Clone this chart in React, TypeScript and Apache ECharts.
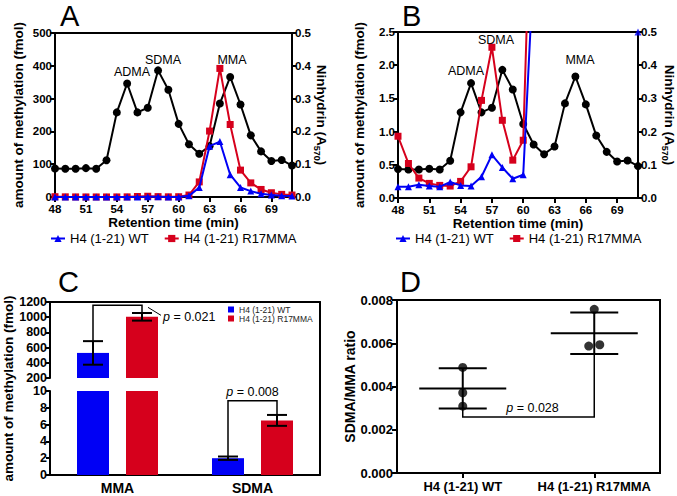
import React, { useEffect, useRef } from "react";
import * as echarts from "echarts";

const FONT = "'Liberation Sans', Arial, Helvetica, sans-serif";
const BLUE = "#0000f5";
const RED = "#d6001c";
const BLACK = "#000000";
const WT = "H4 (1-21) WT";
const R17 = "H4 (1-21) R17MMA";

// ---------- Panels A & B : chromatograms ----------
const retentionTime = [48, 49, 50, 51, 52, 53, 54, 55, 56, 57, 58, 59, 60, 61, 62, 63, 64, 65, 66, 67, 68, 69, 70, 71];
const ninhydrinA570 = [0.087, 0.086, 0.086, 0.088, 0.086, 0.112, 0.258, 0.346, 0.258, 0.272, 0.386, 0.327, 0.223, 0.161, 0.132, 0.155, 0.285, 0.366, 0.282, 0.188, 0.139, 0.11, 0.113, 0.096];
const wtMethylFmol = [0.17, 0.17, 0.2, 0.18, 0.17, 0.24, 0.19, 0.18, 0.32, 0.65, 0.46, 0.29, 0.35, 3.5, 29, 155, 169, 68, 29, 18, 10, 6, 4, 3];
const r17MethylFmol = [0.93, 0.52, 0.3, 0.22, 0.19, 0.18, 0.25, 0.47, 1.47, 2.27, 1.17, 0.57, 0.87, 6, 46, 201, 392, 221, 82, 43, 23, 13, 8, 6];
const wtOffScaleB = [[71, 2.5]];
const retentionTicks = [48, 51, 54, 57, 60, 63, 66, 69];
const aLeftTicks = [0, 100, 200, 300, 400, 500];
const bLeftTicks = [0, 0.5, 1.0, 1.5, 2.0, 2.5];
const ninhydrinTicks = [0, 0.1, 0.2, 0.3, 0.4, 0.5];

// ---------- Panel C : bars with broken axis ----------
const cCategories = ["MMA", "SDMA"];
const cWtMean = [530, 2.0];
const cWtErr = [155, 0.2];
const cR17Mean = [1005, 6.5];
const cR17Err = [50, 0.65];
const cPValues = ["0.021", "0.008"];
const cBracketTop = [1156, 8.84];
const cUpperTicks = [200, 400, 600, 800, 1000, 1200];
const cLowerTicks = [0, 2, 4, 6, 8, 10];

// ---------- Panel D : ratio scatter ----------
const dCategories = ["H4 (1-21) WT", "H4 (1-21) R17MMA"];
const dWtRatios = [0.00488, 0.00371, 0.00309];
const dR17Ratios = [0.00757, 0.00587, 0.00593];
const dMean = [0.00391, 0.00646];
const dSD = [0.00093, 0.00096];
const dPValue = "0.028";
const dBracketBottom = 0.00259;
const dTicks = [0, 0.002, 0.004, 0.006, 0.008];

// layout constants
const C_BAR_W = 32;
const C_BAR_GAP = 17;
const C_OFF = (C_BAR_W + C_BAR_GAP) / 2;
const dWtJitterPx = [0, 0, 0];
const dR17JitterPx = [0, -5.5, 5.5];

const axisLine = { show: true, onZero: false, lineStyle: { color: BLACK, width: 2 } };
const axisTick = (length = 5) => ({ show: true, inside: false, length, lineStyle: { color: BLACK, width: 2 } });
const plain = (v: number) => String(v);
const tickText = (fontSize: number, margin: number, formatter: any = plain) => ({
  show: true, color: BLACK, fontFamily: FONT, fontWeight: "bold", fontSize, margin, formatter,
});
const titleText = (fontSize = 13.5) => ({ color: BLACK, fontFamily: FONT, fontWeight: "bold", fontSize });
const noSplit = { show: false };
const range = (t: number[]) => ({ min: t[0], max: t[t.length - 1], interval: t[1] - t[0] });

const ninhydrinName = "{n|Ninhydrin (A}{s|570}{n|)}";
const ninhydrinRich = {
  n: { fontFamily: FONT, fontWeight: "bold", fontSize: 13.5, color: BLACK, lineHeight: 18, verticalAlign: "middle" },
  s: { fontFamily: FONT, fontWeight: "bold", fontSize: 9, color: BLACK, lineHeight: 9, verticalAlign: "bottom" },
};

const pRich = (fs: number) => ({
  i: { fontFamily: FONT, fontStyle: "italic", fontSize: fs, fill: BLACK },
  n: { fontFamily: FONT, fontSize: fs, fill: BLACK },
});

const lineStroke = { stroke: BLACK, lineWidth: 2, fill: null };
const thinStroke = { stroke: BLACK, lineWidth: 1.5, fill: null };

function chromXAxis(gridIndex: number) {
  return {
    type: "value",
    gridIndex,
    min: retentionTicks[0],
    max: retentionTime[retentionTime.length - 1],
    interval: retentionTicks[1] - retentionTicks[0],
    axisLine,
    axisTick: axisTick(5),
    axisLabel: { ...tickText(11.5, 6), showMaxLabel: false },
    splitLine: noSplit,
    name: "Retention time (min)",
    nameLocation: "middle",
    nameGap: 18,
    nameMoveOverlap: false,
    nameTextStyle: titleText(13.5),
  };
}

function chromSeries(xi: number, yl: number, yr: number) {
  const xy = (arr: number[]) => retentionTime.map((t, i) => [t, arr[i]]);
  return [
    {
      type: "line", name: "Ninhydrin", xAxisIndex: xi, yAxisIndex: yr, data: xy(ninhydrinA570),
      symbol: "circle", symbolSize: 8, itemStyle: { color: BLACK }, lineStyle: { color: BLACK, width: 2 }, clip: true, z: 2,
    },
    {
      type: "line", name: R17, xAxisIndex: xi, yAxisIndex: yl, data: xy(r17MethylFmol),
      symbol: "rect", symbolSize: 7, itemStyle: { color: RED }, lineStyle: { color: RED, width: 2 }, clip: true, z: 3,
    },
    {
      type: "line", name: WT, xAxisIndex: xi, yAxisIndex: yl, data: xy(wtMethylFmol),
      symbol: "triangle", symbolSize: 7, itemStyle: { color: BLUE }, lineStyle: { color: BLUE, width: 2 }, clip: true, z: 4,
    },
  ];
}

function cBars(xi: number, yi: number) {
  return [
    { type: "bar", name: WT, xAxisIndex: xi, yAxisIndex: yi, data: cWtMean, barWidth: C_BAR_W, barGap: `${(C_BAR_GAP / C_BAR_W) * 100}%`, itemStyle: { color: BLUE }, clip: true },
    { type: "bar", name: R17, xAxisIndex: xi, yAxisIndex: yi, data: cR17Mean, barWidth: C_BAR_W, barGap: `${(C_BAR_GAP / C_BAR_W) * 100}%`, itemStyle: { color: RED }, clip: true },
  ];
}

function cErrorBars(xi: number, yi: number) {
  const data: number[][] = [];
  cCategories.forEach((_, i) => {
    data.push([i, 0, cWtMean[i], cWtErr[i]]);
    data.push([i, 1, cR17Mean[i], cR17Err[i]]);
  });
  return {
    type: "custom", xAxisIndex: xi, yAxisIndex: yi, clip: true, silent: true, z: 6,
    encode: { x: 0, y: 2 },
    data,
    renderItem: (_p: any, api: any) => {
      const cat = api.value(0);
      const grp = api.value(1);
      const mean = api.value(2);
      const err = api.value(3);
      const x = api.coord([cat, mean])[0] + (grp === 0 ? -C_OFF : C_OFF);
      const yHi = api.coord([cat, mean + err])[1];
      const yLo = api.coord([cat, mean - err])[1];
      return {
        type: "group",
        children: [
          { type: "line", shape: { x1: x, y1: yHi, x2: x, y2: yLo }, style: lineStroke },
          { type: "line", shape: { x1: x - 10, y1: yHi, x2: x + 10, y2: yHi }, style: lineStroke },
          { type: "line", shape: { x1: x - 10, y1: yLo, x2: x + 10, y2: yLo }, style: lineStroke },
        ],
      };
    },
  };
}

function cBracket(i: number, xi: number, yi: number, side: boolean) {
  return {
    type: "custom", xAxisIndex: xi, yAxisIndex: yi, clip: false, silent: true, z: 7,
    encode: { x: 0, y: 3 },
    data: [[i, cWtMean[i] + cWtErr[i], cR17Mean[i] + cR17Err[i], cBracketTop[i]]],
    renderItem: (_p: any, api: any) => {
      const cat = api.value(0);
      const top = api.coord([cat, api.value(3)]);
      const xl = top[0] - C_OFF;
      const xr = top[0] + C_OFF;
      const yt = top[1];
      const yl = api.coord([cat, api.value(1)])[1];
      const yr = api.coord([cat, api.value(2)])[1];
      const txt = `{i|p}{n| = ${cPValues[i]}}`;
      const children: any[] = [
        { type: "polyline", shape: { points: [[xl, yl], [xl, yt], [xr, yt], [xr, yr]] }, style: thinStroke },
      ];
      if (side) {
        children.push({ type: "line", shape: { x1: xr + 6, y1: yt + 2, x2: xr + 19, y2: yt + 10 }, style: { stroke: BLACK, lineWidth: 1, fill: null } });
        children.push({
          type: "text", x: xr + 21, y: yt + 12,
          style: { text: txt, rich: pRich(12.5), fontSize: 12.5, fontFamily: FONT, fill: BLACK, align: "left", verticalAlign: "middle", textAlign: "left", textVerticalAlign: "middle" },
        });
      } else {
        children.push({
          type: "text", x: top[0], y: yt - 2,
          style: { text: txt, rich: pRich(12.5), fontSize: 12.5, fontFamily: FONT, fill: BLACK, align: "center", verticalAlign: "bottom", textAlign: "center", textVerticalAlign: "bottom" },
        });
      }
      return { type: "group", children };
    },
  };
}

const panelLetter = (text: string, x: number, y: number) => ({
  type: "text", x, y, silent: true,
  style: { text, fontSize: 29, fontFamily: FONT, fill: BLACK, align: "left", verticalAlign: "top", textAlign: "left", textVerticalAlign: "top" },
});
const peakLabel = (text: string, x: number, y: number) => ({
  type: "text", x, y, silent: true,
  style: { text, fontSize: 12.5, fontFamily: FONT, fill: BLACK, align: "center", verticalAlign: "middle", textAlign: "center", textVerticalAlign: "middle" },
});

const option: any = {
  animation: false,
  backgroundColor: "#ffffff",
  textStyle: { fontFamily: FONT },
  grid: [
    { left: 55, top: 33, width: 237, height: 164, show: true, borderColor: BLACK, borderWidth: 2, containLabel: false, outerBoundsMode: "none" },
    { left: 398, top: 32, width: 240, height: 166, show: true, borderColor: BLACK, borderWidth: 2, containLabel: false, outerBoundsMode: "none" },
    { left: 50, top: 302, width: 270, height: 76, containLabel: false, outerBoundsMode: "none" },
    { left: 50, top: 391, width: 270, height: 84, containLabel: false, outerBoundsMode: "none" },
    { left: 50, top: 302, width: 270, height: 173, containLabel: false, outerBoundsMode: "none" },
    { left: 397, top: 300, width: 263, height: 173, show: true, borderColor: BLACK, borderWidth: 2, containLabel: false, outerBoundsMode: "none" },
  ],
  xAxis: [
    chromXAxis(0),
    chromXAxis(1),
    { type: "category", gridIndex: 2, data: cCategories, show: false },
    {
      type: "category", gridIndex: 3, data: cCategories, axisLine, axisTick: { show: false },
      axisLabel: { ...tickText(14, 6, null), interval: 0 }, splitLine: noSplit,
    },
    {
      type: "value", gridIndex: 4, position: "top", min: 0, max: 1, axisLine,
      axisTick: { show: false }, axisLabel: { show: false }, splitLine: noSplit,
    },
    {
      type: "category", gridIndex: 5, data: dCategories, axisLine,
      axisTick: { ...axisTick(5), alignWithLabel: true, interval: 0 },
      axisLabel: { ...tickText(13, 7, null), interval: 0, hideOverlap: false }, splitLine: noSplit,
    },
  ],
  yAxis: [
    {
      type: "value", gridIndex: 0, position: "left", ...range(aLeftTicks), axisLine, axisTick: axisTick(5),
      axisLabel: tickText(11.5, 3), splitLine: noSplit,
      name: "amount of methylation (fmol)", nameLocation: "middle", nameGap: 30, nameMoveOverlap: false, nameTextStyle: titleText(13.5),
    },
    {
      type: "value", gridIndex: 0, position: "right", ...range(ninhydrinTicks), axisLine, axisTick: axisTick(4),
      axisLabel: tickText(11.5, 3, (v: number) => v.toFixed(1)), splitLine: noSplit,
      name: ninhydrinName, nameLocation: "middle", nameRotate: -90, nameGap: 20, nameMoveOverlap: false,
      nameTextStyle: { ...titleText(13.5), rich: ninhydrinRich },
    },
    {
      type: "value", gridIndex: 1, position: "left", ...range(bLeftTicks), axisLine, axisTick: axisTick(5),
      axisLabel: tickText(11.5, 3, (v: number) => v.toFixed(1)), splitLine: noSplit,
      name: "amount of methylation (fmol)", nameLocation: "middle", nameGap: 32, nameMoveOverlap: false, nameTextStyle: titleText(13.5),
    },
    {
      type: "value", gridIndex: 1, position: "right", ...range(ninhydrinTicks), axisLine, axisTick: axisTick(4),
      axisLabel: tickText(11.5, 3, (v: number) => v.toFixed(1)), splitLine: noSplit,
      name: ninhydrinName, nameLocation: "middle", nameRotate: -90, nameGap: 22, nameMoveOverlap: false,
      nameTextStyle: { ...titleText(13.5), rich: ninhydrinRich },
    },
    {
      type: "value", gridIndex: 2, position: "left", ...range(cUpperTicks), axisLine, axisTick: axisTick(4),
      axisLabel: tickText(12.5, 3), splitLine: noSplit,
    },
    {
      type: "value", gridIndex: 3, position: "left", ...range(cLowerTicks), axisLine, axisTick: axisTick(4),
      axisLabel: tickText(12.5, 3), splitLine: noSplit,
    },
    {
      type: "value", gridIndex: 4, position: "right", min: 0, max: 1, axisLine,
      axisTick: { show: false }, axisLabel: { show: false }, splitLine: noSplit,
    },
    {
      type: "value", gridIndex: 4, position: "left", min: 0, max: 1, axisLine: { show: false },
      axisTick: { show: false }, axisLabel: { show: false }, splitLine: noSplit,
      name: "amount of methylation (fmol)", nameLocation: "middle", nameGap: 35, nameMoveOverlap: false, nameTextStyle: titleText(13.5),
    },
    {
      type: "value", gridIndex: 5, position: "left", ...range(dTicks), axisLine, axisTick: axisTick(5),
      axisLabel: tickText(13, 4, (v: number) => v.toFixed(3)), splitLine: noSplit,
      name: "SDMA/MMA ratio", nameLocation: "middle", nameGap: 40, nameMoveOverlap: false, nameTextStyle: titleText(14),
    },
  ],
  legend: [
    {
      left: 50, top: 232, padding: 0, itemGap: 15, itemWidth: 14, itemHeight: 9, selectedMode: false,
      data: [WT, R17], textStyle: { fontFamily: FONT, fontSize: 13, color: BLACK },
    },
    {
      left: 395, top: 232, padding: 0, itemGap: 15, itemWidth: 14, itemHeight: 9, selectedMode: false,
      data: [WT, R17], textStyle: { fontFamily: FONT, fontSize: 13, color: BLACK },
    },
    {
      left: 228, top: 305, padding: 0, orient: "vertical", itemGap: 0, itemWidth: 6, itemHeight: 6, selectedMode: false,
      data: [{ name: WT, icon: "rect" }, { name: R17, icon: "rect" }],
      textStyle: { fontFamily: FONT, fontSize: 8.5, lineHeight: 7, color: "#222" },
    },
  ],
  series: [
    ...chromSeries(0, 0, 1),
    ...chromSeries(1, 2, 3),
    {
      type: "scatter", name: "WT off-scale", xAxisIndex: 1, yAxisIndex: 2, data: wtOffScaleB,
      symbol: "triangle", symbolSize: 7, itemStyle: { color: BLUE }, clip: false, z: 5,
    },
    ...cBars(2, 4),
    ...cBars(3, 5),
    cErrorBars(2, 4),
    cErrorBars(3, 5),
    cBracket(0, 2, 4, true),
    cBracket(1, 3, 5, false),
    {
      type: "custom", xAxisIndex: 5, yAxisIndex: 8, clip: false, silent: true, z: 3,
      encode: { x: 0, y: 1 },
      data: dMean.map((m, i) => [i, m, dSD[i]]),
      renderItem: (_p: any, api: any) => {
        const cat = api.value(0);
        const m = api.value(1);
        const sd = api.value(2);
        const c = api.coord([cat, m]);
        const yHi = api.coord([cat, m + sd])[1];
        const yLo = api.coord([cat, m - sd])[1];
        return {
          type: "group",
          children: [
            { type: "line", shape: { x1: c[0] - 43.5, y1: c[1], x2: c[0] + 43.5, y2: c[1] }, style: lineStroke },
            { type: "line", shape: { x1: c[0] - 24, y1: yHi, x2: c[0] + 24, y2: yHi }, style: lineStroke },
            { type: "line", shape: { x1: c[0] - 24, y1: yLo, x2: c[0] + 24, y2: yLo }, style: lineStroke },
            { type: "line", shape: { x1: c[0], y1: yHi, x2: c[0], y2: yLo }, style: lineStroke },
          ],
        };
      },
    },
    {
      type: "custom", xAxisIndex: 5, yAxisIndex: 8, clip: false, silent: true, z: 3,
      encode: { x: 0, y: 1 },
      data: [[0, dBracketBottom, 1, dMean[0] - dSD[0], dMean[1] - dSD[1]]],
      renderItem: (_p: any, api: any) => {
        const yb = api.value(1);
        const pL = api.coord([api.value(0), yb]);
        const pR = api.coord([api.value(2), yb]);
        const yL = api.coord([api.value(0), api.value(3)])[1];
        const yR = api.coord([api.value(2), api.value(4)])[1];
        return {
          type: "group",
          children: [
            { type: "polyline", shape: { points: [[pL[0], yL], [pL[0], pL[1]], [pR[0], pL[1]], [pR[0], yR]] }, style: thinStroke },
            {
              type: "text", x: (pL[0] + pR[0]) / 2 + 4, y: pL[1] - 2,
              style: { text: `{i|p}{n| = ${dPValue}}`, rich: pRich(12.5), fontSize: 12.5, fontFamily: FONT, fill: BLACK, align: "center", verticalAlign: "bottom", textAlign: "center", textVerticalAlign: "bottom" },
            },
          ],
        };
      },
    },
    {
      type: "scatter", name: "ratio", xAxisIndex: 5, yAxisIndex: 8, symbol: "circle", symbolSize: 9,
      itemStyle: { color: BLACK }, z: 6, clip: false,
      data: [
        ...dWtRatios.map((v, i) => ({ value: [0, v], symbolOffset: [dWtJitterPx[i], 0] })),
        ...dR17Ratios.map((v, i) => ({ value: [1, v], symbolOffset: [dR17JitterPx[i], 0] })),
      ],
    },
  ],
  graphic: [
    panelLetter("A", 60, 1),
    panelLetter("B", 402, 1),
    panelLetter("C", 58, 267),
    panelLetter("D", 400, 267),
    peakLabel("ADMA", 132, 72),
    peakLabel("SDMA", 163, 60),
    peakLabel("MMA", 232, 60),
    peakLabel("ADMA", 466, 71),
    peakLabel("SDMA", 496, 40),
    peakLabel("MMA", 580, 60),
  ],
};

export default function App() {
  const ref = useRef<HTMLDivElement>(null);
  useEffect(() => {
    const chart = echarts.init(ref.current as HTMLDivElement, null, { renderer: "svg" });
    chart.setOption(option);
    return () => chart.dispose();
  }, []);
  return (
    <div
      ref={ref}
      style={{ position: "absolute", left: 0, top: 0, width: 677, height: 496, background: "#ffffff" }}
    />
  );
}
